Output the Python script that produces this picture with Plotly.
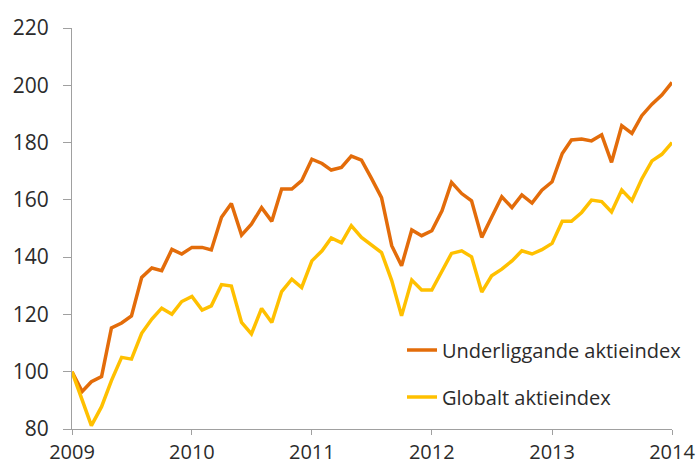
import plotly.graph_objects as go
import pandas as pd

months = pd.date_range("2009-01-01", "2014-01-01", freq="MS")

underliggande = [
    100, 93.1, 96.5, 98.3, 115.3, 117, 119.5, 132.9, 136.2, 135.3, 142.7, 141.1,
    143.4, 143.4, 142.5, 153.9, 158.7, 147.7, 151.5, 157.3, 152.5, 163.8, 163.8, 166.7,
    174.2, 172.7, 170.4, 171.3, 175.3, 173.9, 167.6, 160.8, 144, 137, 149.5, 147.5,
    149.2, 156.2, 166.1, 162.2, 159.7, 146.9, 153.9, 161.1, 157.3, 161.7, 158.9, 163.4,
    166.3, 176.2, 180.9, 181.2, 180.6, 182.7, 173.1, 185.9, 183.2, 189.4, 193.4, 196.6,
    201,
]
globalt = [
    100, 90.5, 81.2, 87.8, 96.9, 105, 104.4, 113.4, 118.4, 122.2, 120.1, 124.5,
    126.3, 121.5, 123, 130.4, 129.9, 117.2, 113.2, 122.1, 117.2, 128, 132.3, 129.4,
    138.7, 142.2, 146.7, 145, 151, 146.9, 144.3, 141.6, 131.8, 119.5, 132, 128.5,
    128.5, 135, 141.3, 142.2, 140.1, 127.8, 133.5, 135.8, 138.7, 142.2, 141.1, 142.6,
    144.8, 152.5, 152.5, 155.6, 159.9, 159.4, 155.8, 163.4, 159.7, 167.3, 173.6, 175.9,
    180,
]
series_names = ["Underliggande aktieindex", "Globalt aktieindex"]
y_ticks = [80, 100, 120, 140, 160, 180, 200, 220]
x_ticks = ["2009", "2010", "2011", "2012", "2013", "2014"]

FONT = "Open Sans"
TXT = "#2b2b2b"

fig = go.Figure()
fig.add_trace(go.Scatter(x=months, y=underliggande, mode="lines", name=series_names[0],
                         line=dict(color="#E36C0A", width=3.5), legend="legend"))
fig.add_trace(go.Scatter(x=months, y=globalt, mode="lines", name=series_names[1],
                         line=dict(color="#FFC000", width=3.5), legend="legend2"))

# plot area: x 72..672, y 28..429
fig.update_layout(
    width=697, height=464,
    margin=dict(l=72, r=25, t=28, b=35, autoexpand=False),
    plot_bgcolor="white", paper_bgcolor="white",
    font=dict(family=FONT, size=20, color=TXT),
    showlegend=True,
    legend=dict(x=(402 - 72) / 600, y=(429 - 350) / 401, xanchor="left", yanchor="middle",
                bgcolor="rgba(0,0,0,0)", font=dict(family=FONT, size=20, color=TXT)),
    legend2=dict(x=(402 - 72) / 600, y=(429 - 397) / 401, xanchor="left", yanchor="middle",
                 bgcolor="rgba(0,0,0,0)", font=dict(family=FONT, size=20, color=TXT)),
)
fig.update_xaxes(
    type="date", automargin=False,
    range=[months[0], months[-1]],
    tickvals=[pd.Timestamp(f"{y}-01-01") for y in x_ticks],
    ticktext=x_ticks,
    showgrid=False, zeroline=False,
    showline=True, linecolor="#a0a0a0", linewidth=1,
    ticks="outside", ticklen=5, tickcolor="#a0a0a0",
    tickfont=dict(family=FONT, size=20, color=TXT),
)
fig.update_yaxes(
    automargin=False,
    range=[80, 220],
    tickvals=y_ticks,
    showgrid=False, zeroline=False,
    showline=True, linecolor="#a0a0a0", linewidth=1,
    ticks="outside", ticklen=8, tickcolor="#a0a0a0",
    ticklabelstandoff=10,
    tickfont=dict(family=FONT, size=21, color=TXT),
)

fig.write_html(
    "out.html",
    config={"displayModeBar": False},
    post_script="document.body.style.margin='0';document.body.style.overflow='hidden';",
)
